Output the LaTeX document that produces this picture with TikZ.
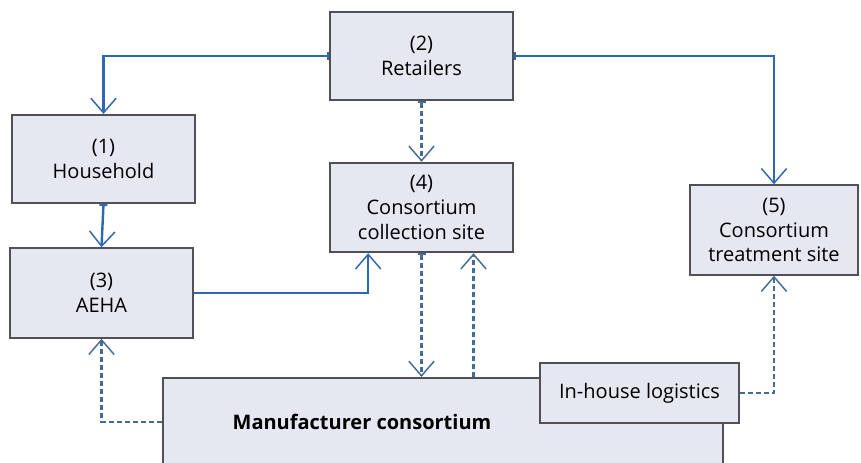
\documentclass[tikz,border=0pt]{standalone}
\usepackage{fontspec}
\setmainfont{Open Sans}
\usetikzlibrary{arrows.meta}

\definecolor{boxfill}{RGB}{229,231,241}
\definecolor{boxline}{RGB}{80,80,86}
\definecolor{flowblue}{RGB}{46,104,176}
\definecolor{dashblue}{RGB}{70,108,150}

\tikzset{
  stage/.style={draw=boxline,fill=boxfill,line width=1.6pt,align=center,
    font=\fontsize{15}{18.5}\selectfont},
  flow/.style={flowblue,line width=1.8pt,-{Straight Barb[length=11pt,width=19pt,line width=1.1pt]}},
  haul/.style={dashblue,line width=2pt,dash pattern=on 4pt off 2pt,
    -{Straight Barb[length=11pt,width=19pt,line width=1.1pt]}},
  tail/.style={{Bar[width=6pt,line width=1.5pt]}-{Straight Barb[length=11pt,width=19pt,line width=1.1pt]}}
}

\begin{document}
\begin{tikzpicture}[x=0.75pt,y=-0.75pt]
            \useasboundingbox (0,0) rectangle (861,463);

            \node[stage,minimum width=137pt,minimum height=66pt] (ret) at (421.5,56) {(2)\\Retailers};
            \node[stage,minimum width=137pt,minimum height=66pt] (hh) at (103.5,159) {(1)\\Household};
            \node[stage,minimum width=137pt,minimum height=67pt] (aeha) at (101.5,293) {(3)\\AEHA};
            \node[stage,minimum width=137pt,minimum height=67pt] (col) at (421.5,207.5) {(4)\\Consortium\\collection site};
            \node[stage,minimum width=126pt,minimum height=67pt] (trt) at (774,230) {(5)\\Consortium\\treatment site};

            \node[stage,minimum width=420pt,minimum height=66pt] (mfr) at (443,422) {};
            \node[font=\fontsize{15}{18.5}\selectfont\bfseries] (mfrname) at (362,422) {Manufacturer consortium};
            \node[stage,minimum width=149pt,minimum height=45pt] (ihl) at (639.5,393) {In-house logistics};

            \draw[flow,tail] (ret.west) -| (hh.north);
            \draw[flow,tail] (ret.east) -| (trt.north);
            \draw[haul,tail] (ret.south) -- (col.north);
            \draw[flow,tail] (hh.south) -- (aeha.north);
            \draw[flow] (aeha.east) -| ([xshift=-40pt]col.south);
            \draw[haul,tail] (col.south) -- (col.south |- mfr.north);
            \draw[haul] ([xshift=39pt]col.south |- mfr.north) -- ([xshift=39pt]col.south);
            \draw[haul] (mfr.west) -| (aeha.south);
            \draw[haul] (ihl.east) -| (trt.south);
        \end{tikzpicture}
\end{document}
